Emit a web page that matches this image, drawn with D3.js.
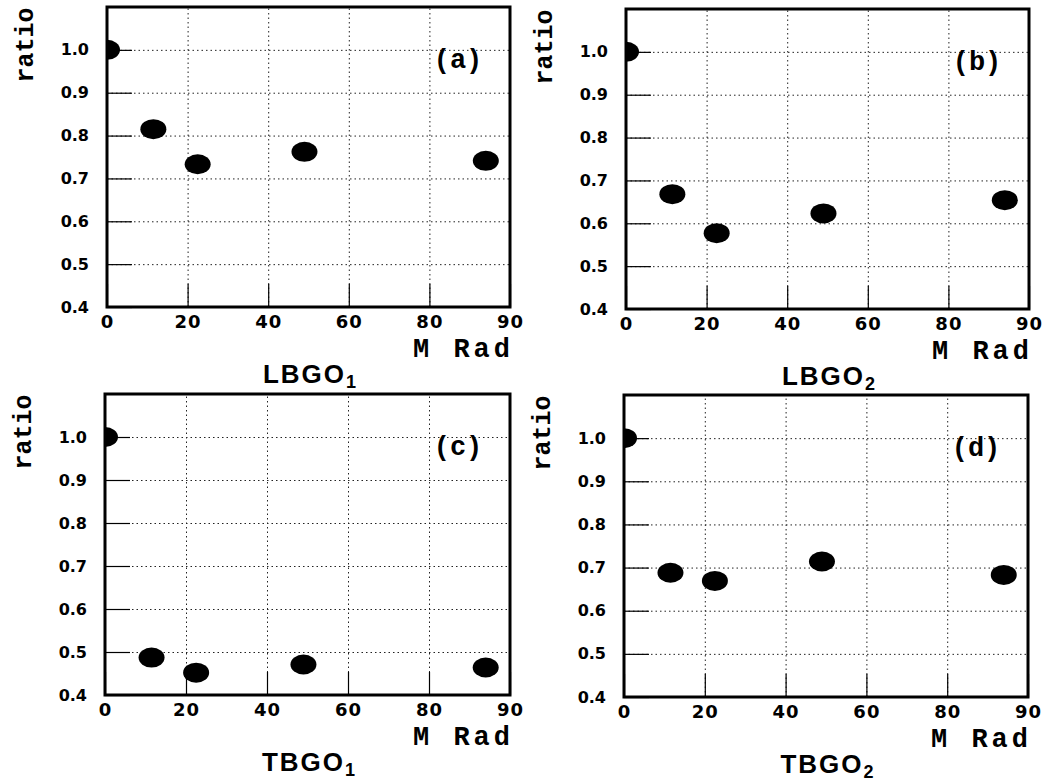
<!DOCTYPE html>
<html>
<head>
<meta charset="utf-8">
<script src="https://cdn.jsdelivr.net/npm/d3@7"></script>
<style>
  body { margin: 0; background: #fff; }
  .tick text { font-family: "DejaVu Sans", sans-serif; font-weight: bold; fill: #000; }
</style>
</head>
<body>
<script>
// dose positions on the printed axis (last tick is labelled "90")
const dose = [0, 11.5, 22.5, 49, 94];
const ratioA = [1.0, 0.815, 0.733, 0.762, 0.741];
const ratioB = [1.0, 0.668, 0.577, 0.623, 0.654];
const ratioC = [1.0, 0.487, 0.452, 0.471, 0.464];
const ratioD = [1.0, 0.688, 0.669, 0.714, 0.683];

const xTickValues = [0, 20, 40, 60, 80, 100];
const xTickLabels = ["0", "20", "40", "60", "80", "90"];
const yTicks = [0.4, 0.5, 0.6, 0.7, 0.8, 0.9, 1.0];

const panelTags = ["(a)", "(b)", "(c)", "(d)"];
const panelNames = [["LBGO", "1"], ["LBGO", "2"], ["TBGO", "1"], ["TBGO", "2"]];
const panelSeries = [ratioA, ratioB, ratioC, ratioD];

// frame placement of each panel
const frames = [
    {left: 107, top: 7, right: 510, bottom: 307},
    {left: 626, top: 9, right: 1029, bottom: 309},
    {left: 105, top: 394, right: 510, bottom: 695},
    {left: 624, top: 395, right: 1028, bottom: 697}
];

const svg = d3.select("body")
    .append("svg")
    .attr("width", 1043)
    .attr("height", 781)
    .style("display", "block");

svg.append("rect").attr("width", 1043).attr("height", 781).attr("fill", "#fff");

frames.forEach((f, i) => {
    const w = f.right - f.left;
    const h = f.bottom - f.top;

    const x = d3.scaleLinear().domain([0, 100]).range([0, w]);
    const y = d3.scaleLinear().domain([0.4, 1.1]).range([h, 0]);

    const g = svg.append("g")
        .attr("transform", "translate(" + f.left + "," + f.top + ")");

    g.append("clipPath").attr("id", "clip" + i)
        .append("rect").attr("width", w).attr("height", h);

    // dotted grid
    g.append("g")
        .call(d3.axisLeft(y).tickValues(yTicks.slice(1)).tickSize(-w).tickFormat(""))
        .call(s => s.select(".domain").remove())
        .selectAll("line")
        .attr("stroke", "#222")
        .attr("stroke-dasharray", "1.5,3");

    g.append("g")
        .attr("transform", "translate(0," + h + ")")
        .call(d3.axisBottom(x).tickValues(xTickValues.slice(1, 5)).tickSize(-h).tickFormat(""))
        .call(s => s.select(".domain").remove())
        .selectAll("line")
        .attr("stroke", "#222")
        .attr("stroke-dasharray", "1.5,3");

    // y axis with short inner ticks
    const yAxis = g.append("g")
        .call(d3.axisLeft(y).tickValues(yTicks).tickSize(-25).tickPadding(18)
            .tickFormat(d3.format(".1f")));
    yAxis.select(".domain").remove();
    yAxis.selectAll("line").attr("stroke", "#000").attr("stroke-width", 1.2);
    yAxis.selectAll("text").style("font-size", "16px");

    // x axis
    const xAxis = g.append("g")
        .attr("transform", "translate(0," + h + ")")
        .call(d3.axisBottom(x).tickValues(xTickValues).tickSize(-23).tickPadding(8)
            .tickFormat((d, k) => xTickLabels[k]));
    xAxis.select(".domain").remove();
    xAxis.selectAll("line").attr("stroke", "#000").attr("stroke-width", 1.2);
    xAxis.selectAll("text").style("font-size", "18px").style("letter-spacing", "1px");

    // frame
    g.append("rect")
        .attr("width", w).attr("height", h)
        .attr("fill", "none").attr("stroke", "#000").attr("stroke-width", 3);

    // markers
    g.append("g")
        .attr("clip-path", "url(#clip" + i + ")")
        .selectAll("ellipse")
        .data(dose.map((d, k) => ({dose: d, ratio: panelSeries[i][k]})))
        .enter()
        .append("ellipse")
        .attr("cx", d => x(d.dose))
        .attr("cy", d => y(d.ratio))
        .attr("rx", 13)
        .attr("ry", 10)
        .attr("fill", "#000");

    // panel tag
    g.append("text")
        .attr("x", w - 52).attr("y", y(1.0) + 18)
        .attr("text-anchor", "middle")
        .style("font-family", "Liberation Mono, monospace")
        .style("font-weight", "bold")
        .style("font-size", "27px")
        .text(panelTags[i]);

    // y label
    g.append("text")
        .attr("transform", "translate(-74," + 38 + ") rotate(-90)")
        .attr("text-anchor", "middle")
        .style("font-family", "Liberation Mono, monospace")
        .style("font-weight", "bold")
        .style("font-size", "25px")
        .text("ratio");

    // x unit
    g.append("text")
        .attr("x", w + 4).attr("y", h + 50)
        .attr("text-anchor", "end")
        .style("font-family", "Liberation Mono, monospace")
        .style("font-weight", "bold")
        .style("font-size", "27px")
        .style("letter-spacing", "4px")
        .text("M Rad");

    // detector name
    const name = g.append("text")
        .attr("x", w / 2 + 2).attr("y", h + 76)
        .attr("text-anchor", "middle")
        .style("font-family", "Liberation Sans, Arial, sans-serif")
        .style("font-weight", "bold")
        .style("font-size", "26px")
        .style("letter-spacing", "2px");
    name.append("tspan").text(panelNames[i][0]);
    name.append("tspan").attr("dy", 5).style("font-size", "18px").text(panelNames[i][1]);
});
</script>
</body>
</html>
